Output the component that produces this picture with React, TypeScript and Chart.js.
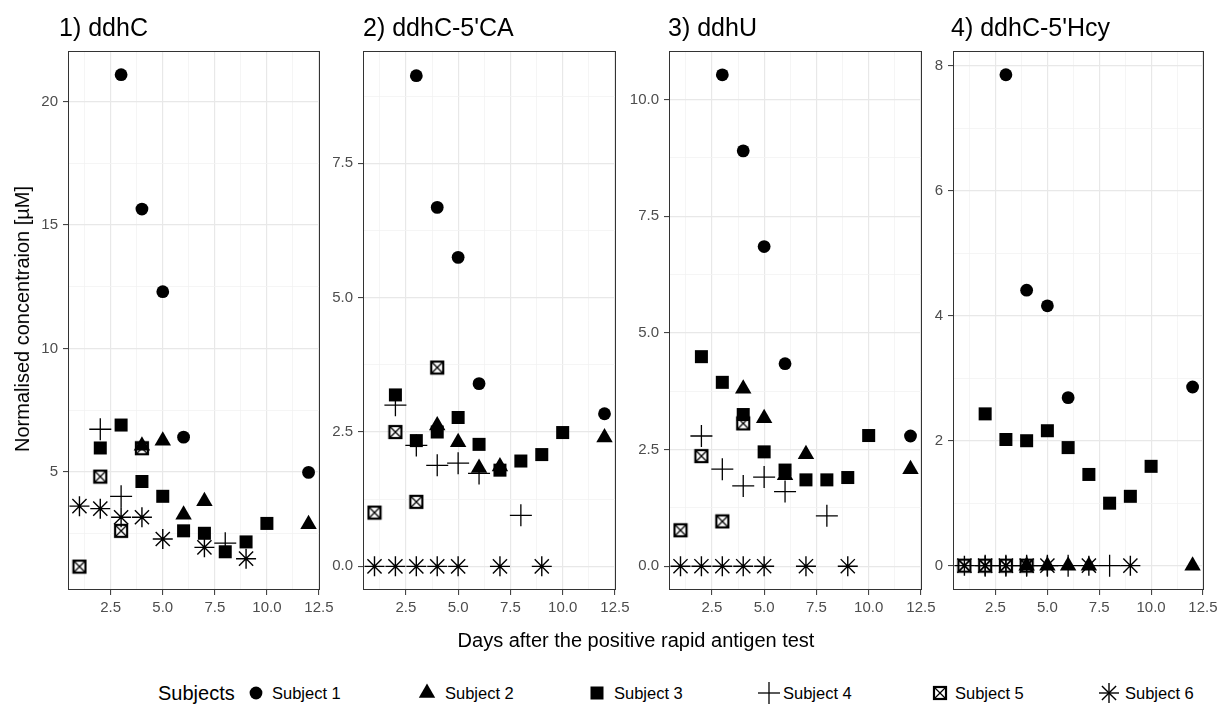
import React, { useEffect, useRef } from 'react';
import { Chart, registerables } from 'chart.js';

Chart.register(...registerables);

const FONT = '"Liberation Sans", Arial, Helvetica, sans-serif';

// ---------- data ----------
const subjects = ['Subject 1', 'Subject 2', 'Subject 3', 'Subject 4', 'Subject 5', 'Subject 6'];
const panelTitles = ['1) ddhC', "2) ddhC-5'CA", '3) ddhU', "4) ddhC-5'Hcy"];

// sampling days of each subject
const daysS1 = [3, 4, 5, 6, 12];
const daysS2 = [4, 5, 6, 7, 12];
const daysS3 = [2, 3, 4, 5, 6, 7, 8, 9, 10];
const daysS4 = [2, 3, 4, 5, 6, 8];
const daysS5 = [1, 2, 3, 4];
const daysS6 = [1, 2, 3, 4, 5, 7, 9];
const subjectDays = [daysS1, daysS2, daysS3, daysS4, daysS5, daysS6];

// values per panel, one row per subject (null = not measured)
const ddhC = [
  [21.1, 15.65, 12.3, 6.4, 4.97],
  [6.05, 6.25, 3.25, 3.8, 2.87],
  [5.96, 6.89, 4.6, 4.0, 2.6, 2.5, 1.75, 2.15, 2.9],
  [6.72, 4.0, null, null, null, 2.1],
  [1.15, 4.8, 2.6, 5.95],
  [3.6, 3.5, 3.15, 3.15, 2.27, 1.93, 1.47],
];
const ddhC5CA = [
  [9.13, 6.68, 5.75, 3.4, 2.84],
  [2.62, 2.31, 1.83, 1.86, 2.4],
  [3.19, 2.34, 2.5, 2.77, 2.27, 1.79, 1.96, 2.08, 2.49],
  [3.0, 2.25, 1.88, 1.92, 1.73, 0.95],
  [1.0, 2.5, 1.2, 3.7],
  [0, 0, 0, 0, 0, 0, 0],
];
const ddhU = [
  [10.53, 8.9, 6.85, 4.34, 2.79],
  [3.8, 3.17, 1.95, 2.4, 2.08],
  [4.49, 3.94, 3.25, 2.45, 2.06, 1.85, 1.85, 1.9, 2.8],
  [2.79, 2.08, 1.72, 1.91, 1.6, 1.08],
  [0.77, 2.36, 0.96, 3.06],
  [0, 0, 0, 0, 0, 0, 0],
];
const ddhC5Hcy = [
  [7.86, 4.41, 4.16, 2.69, 2.86],
  [0, 0, 0, 0, 0],
  [2.43, 2.02, 2.0, 2.16, 1.89, 1.46, 1.0, 1.11, 1.59],
  [0, 0, 0, 0, 0, 0],
  [0, 0, 0, 0],
  [0, 0, 0, 0, 0, 0, 0],
];
const panelValues = [ddhC, ddhC5CA, ddhU, ddhC5Hcy];

// axis ticks
const xMajorTicks = [2.5, 5, 7.5, 10, 12.5];
const xMinorTicks = [1.25, 3.75, 6.25, 8.75, 11.25];
const xLimits = [0.45, 12.55];

const yMajorTicks1 = [5, 10, 15, 20];
const yMinorTicks1 = [2.5, 7.5, 12.5, 17.5];
const yLabels1 = ['5', '10', '15', '20'];
const yMajorTicks2 = [0, 2.5, 5, 7.5];
const yMinorTicks2 = [1.25, 3.75, 6.25, 8.75];
const yLabels2 = ['0.0', '2.5', '5.0', '7.5'];
const yMajorTicks3 = [0, 2.5, 5, 7.5, 10];
const yMinorTicks3 = [1.25, 3.75, 6.25, 8.75];
const yLabels3 = ['0.0', '2.5', '5.0', '7.5', '10.0'];
const yMajorTicks4 = [0, 2, 4, 6, 8];
const yMinorTicks4 = [1, 3, 5, 7];
const yLabels4 = ['0', '2', '4', '6', '8'];
const yLimits = [
  [0.2, 22.06],
  [-0.44, 9.59],
  [-0.51, 11.04],
  [-0.39, 8.24],
];
const yMajor = [yMajorTicks1, yMajorTicks2, yMajorTicks3, yMajorTicks4];
const yMinor = [yMinorTicks1, yMinorTicks2, yMinorTicks3, yMinorTicks4];
const yLabels = [yLabels1, yLabels2, yLabels3, yLabels4];

// ---------- layout ----------
const PLOT_TOP = 47;
const PLOT_BOTTOM = 590;
const plotLefts = [68, 363, 669, 953];
const plotRights = [320, 616, 922, 1204];
const titleLefts = [59, 363, 668, 951];
const Y_AXIS_W = 60;
const X_AXIS_H = 40;
const PAD_TOP = 10;
const PAD_RIGHT = 20;

function makeBoxTimes(): HTMLCanvasElement {
  const c = document.createElement('canvas');
  c.width = 16;
  c.height = 16;
  const g = c.getContext('2d')!;
  g.strokeStyle = '#000';
  g.lineWidth = 2.2;
  g.strokeRect(2, 2, 12, 12);
  g.lineWidth = 1.3;
  g.beginPath();
  g.moveTo(2.5, 2.5);
  g.lineTo(13.5, 13.5);
  g.moveTo(13.5, 2.5);
  g.lineTo(2.5, 13.5);
  g.stroke();
  return c;
}

function subjectStyle(i: number, boxTimes: HTMLCanvasElement) {
  switch (i) {
    case 0:
      return { pointStyle: 'circle', pointRadius: 6.4, borderWidth: 0 };
    case 1:
      return { pointStyle: 'triangle', pointRadius: 9.5, borderWidth: 0 };
    case 2:
      return { pointStyle: 'rect', pointRadius: 9.2, borderWidth: 0 };
    case 3:
      return { pointStyle: 'cross', pointRadius: 11, borderWidth: 1.3 };
    case 4:
      return { pointStyle: boxTimes, pointRadius: 8, borderWidth: 0 };
    default:
      return { pointStyle: 'star', pointRadius: 10, borderWidth: 1.4 };
  }
}

const borderPlugin = {
  id: 'panelBorder',
  afterDraw(chart: any) {
    const { ctx, chartArea } = chart;
    ctx.save();
    ctx.strokeStyle = '#333333';
    ctx.lineWidth = 1;
    ctx.strokeRect(
      Math.round(chartArea.left) + 0.5,
      Math.round(chartArea.top) + 0.5,
      Math.round(chartArea.right - chartArea.left) - 1,
      Math.round(chartArea.bottom - chartArea.top) - 1
    );
    ctx.restore();
  },
};

function Panel({ idx }: { idx: number }) {
  const ref = useRef<HTMLCanvasElement>(null);
  const plotW = plotRights[idx] - plotLefts[idx];
  const plotH = PLOT_BOTTOM - PLOT_TOP;
  const w = Y_AXIS_W + plotW + PAD_RIGHT;
  const h = PAD_TOP + plotH + X_AXIS_H;
  const left = plotLefts[idx] - Y_AXIS_W;
  const top = PLOT_TOP - PAD_TOP;

  useEffect(() => {
    const boxTimes = makeBoxTimes();
    const values = panelValues[idx];
    const datasets = subjects.map((name, s) => {
      const pts: { x: number; y: number }[] = [];
      subjectDays[s].forEach((d, k) => {
        const v = values[s][k];
        if (v !== null && v !== undefined) pts.push({ x: d, y: v as number });
      });
      return {
        label: name,
        data: pts,
        showLine: false,
        backgroundColor: '#000',
        borderColor: '#000',
        order: 6 - s,
        ...subjectStyle(s, boxTimes),
      } as any;
    });

    const isXMajor = (v: number) => xMajorTicks.some((t) => Math.abs(t - v) < 1e-9);
    const yM = yMajor[idx];
    const isYMajor = (v: number) => yM.some((t) => Math.abs(t - v) < 1e-9);

    const chart = new Chart(ref.current!, {
      type: 'scatter',
      data: { datasets },
      plugins: [borderPlugin],
      options: {
        animation: false,
        responsive: false,
        maintainAspectRatio: false,
        events: [],
        layout: { padding: { left: 0, right: PAD_RIGHT, top: PAD_TOP, bottom: 0 } },
        plugins: { legend: { display: false }, tooltip: { enabled: false } },
        scales: {
          x: {
            type: 'linear',
            min: xLimits[0],
            max: xLimits[1],
            afterBuildTicks: (s: any) => {
              s.ticks = [...xMinorTicks, ...xMajorTicks].sort((a, b) => a - b).map((v) => ({ value: v }));
            },
            afterFit: (s: any) => {
              s.height = X_AXIS_H;
            },
            ticks: {
              autoSkip: false,
              maxRotation: 0,
              minRotation: 0,
              padding: 4,
              color: '#4d4d4d',
              font: { family: FONT, size: 15 },
              callback: (v: any) => (isXMajor(Number(v)) ? Number(v).toFixed(1) : ''),
            },
            grid: {
              color: (c: any) => (c.tick && isXMajor(c.tick.value) ? '#e8e8e8' : '#f2f2f2'),
              lineWidth: (c: any) => (c.tick && isXMajor(c.tick.value) ? 1.2 : 0.8),
              tickLength: 5,
              tickColor: (c: any) => (c.tick && isXMajor(c.tick.value) ? '#333333' : 'rgba(0,0,0,0)'),
              tickWidth: 1,
            },
            border: { display: false },
          },
          y: {
            type: 'linear',
            min: yLimits[idx][0],
            max: yLimits[idx][1],
            afterBuildTicks: (s: any) => {
              s.ticks = [...yMinor[idx], ...yMajor[idx]].sort((a, b) => a - b).map((v) => ({ value: v }));
            },
            afterFit: (s: any) => {
              s.width = Y_AXIS_W;
            },
            ticks: {
              autoSkip: false,
              padding: 5,
              color: '#4d4d4d',
              font: { family: FONT, size: 15 },
              callback: (v: any) => {
                const k = yM.findIndex((t) => Math.abs(t - Number(v)) < 1e-9);
                return k >= 0 ? yLabels[idx][k] : '';
              },
            },
            grid: {
              color: (c: any) => (c.tick && isYMajor(c.tick.value) ? '#e8e8e8' : '#f2f2f2'),
              lineWidth: (c: any) => (c.tick && isYMajor(c.tick.value) ? 1.2 : 0.8),
              tickLength: 5,
              tickColor: (c: any) => (c.tick && isYMajor(c.tick.value) ? '#333333' : 'rgba(0,0,0,0)'),
              tickWidth: 1,
            },
            border: { display: false },
          },
        },
      } as any,
    });
    return () => chart.destroy();
  }, [idx]);

  return (
    <canvas
      ref={ref}
      width={w}
      height={h}
      style={{ position: 'absolute', left, top, width: w, height: h }}
    />
  );
}

function LegendIcon({ i }: { i: number }) {
  const s = 24;
  const c = s / 2;
  let shape: React.ReactNode = null;
  if (i === 0) shape = <circle cx={c} cy={c} r={6.4} fill="#000" />;
  else if (i === 1)
    shape = <polygon points={`${c},${c - 9.5} ${c + 8.2},${c + 4.75} ${c - 8.2},${c + 4.75}`} fill="#000" />;
  else if (i === 2) shape = <rect x={c - 6.5} y={c - 6.5} width={13} height={13} fill="#000" />;
  else if (i === 3)
    shape = (
      <g stroke="#000" strokeWidth={1.3}>
        <line x1={c - 11} y1={c} x2={c + 11} y2={c} />
        <line x1={c} y1={c - 11} x2={c} y2={c + 11} />
      </g>
    );
  else if (i === 4)
    shape = (
      <g stroke="#000" fill="none">
        <rect x={c - 6} y={c - 6} width={12} height={12} strokeWidth={2.2} />
        <line x1={c - 5.5} y1={c - 5.5} x2={c + 5.5} y2={c + 5.5} strokeWidth={1.3} />
        <line x1={c + 5.5} y1={c - 5.5} x2={c - 5.5} y2={c + 5.5} strokeWidth={1.3} />
      </g>
    );
  else {
    const d = 10 * Math.SQRT1_2;
    shape = (
      <g stroke="#000" strokeWidth={1.4}>
        <line x1={c - 10} y1={c} x2={c + 10} y2={c} />
        <line x1={c} y1={c - 10} x2={c} y2={c + 10} />
        <line x1={c - d} y1={c - d} x2={c + d} y2={c + d} />
        <line x1={c + d} y1={c - d} x2={c - d} y2={c + d} />
      </g>
    );
  }
  return (
    <svg width={s} height={s} style={{ display: 'block' }}>
      {shape}
    </svg>
  );
}

const legendIconX = [256, 427, 597, 769, 940, 1109];
const legendLabelX = [272, 445, 614, 783, 955, 1125];
const LEGEND_Y = 693;

export default function App() {
  return (
    <div
      style={{
        position: 'absolute',
        left: 0,
        top: 0,
        width: 1222,
        height: 704,
        overflow: 'hidden',
        background: '#fff',
        fontFamily: FONT,
        color: '#000',
      }}
    >
      {[0, 1, 2, 3].map((i) => (
        <Panel key={i} idx={i} />
      ))}
      {panelTitles.map((t, i) => (
        <div
          key={t}
          style={{
            position: 'absolute',
            left: titleLefts[i],
            top: 36 - 0.8465 * 25,
            fontSize: 25,
            lineHeight: 1,
            whiteSpace: 'nowrap',
          }}
        >
          {t}
        </div>
      ))}
      <div
        style={{
          position: 'absolute',
          left: 22,
          top: (PLOT_TOP + PLOT_BOTTOM) / 2,
          transform: 'translate(-50%, -50%) rotate(-90deg)',
          fontSize: 20,
          lineHeight: 1,
          whiteSpace: 'nowrap',
        }}
      >
        Normalised concentraion [µM]
      </div>
      <div
        style={{
          position: 'absolute',
          left: (plotLefts[0] + plotRights[3]) / 2,
          top: 640,
          transform: 'translate(-50%, -50%)',
          fontSize: 20,
          lineHeight: 1,
          whiteSpace: 'nowrap',
        }}
      >
        Days after the positive rapid antigen test
      </div>
      <div
        style={{
          position: 'absolute',
          left: 158,
          top: LEGEND_Y,
          transform: 'translateY(-50%)',
          fontSize: 20,
          lineHeight: 1,
          whiteSpace: 'nowrap',
        }}
      >
        Subjects
      </div>
      {subjects.map((s, i) => (
        <React.Fragment key={s}>
          <div style={{ position: 'absolute', left: legendIconX[i] - 12, top: LEGEND_Y - 12 }}>
            <LegendIcon i={i} />
          </div>
          <div
            style={{
              position: 'absolute',
              left: legendLabelX[i],
              top: LEGEND_Y,
              transform: 'translateY(-50%)',
              fontSize: 16.5,
              lineHeight: 1,
              whiteSpace: 'nowrap',
            }}
          >
            {s}
          </div>
        </React.Fragment>
      ))}
    </div>
  );
}
